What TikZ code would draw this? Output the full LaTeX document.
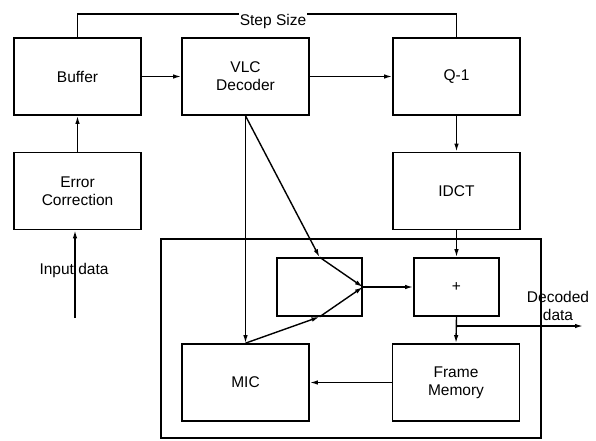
\documentclass[tikz,border=0pt]{standalone}
\usepackage{fontspec}
\setmainfont{Liberation Sans}
\usetikzlibrary{arrows.meta}
\begin{document}
\begin{tikzpicture}[x=1pt,y=-1pt,
  every node/.style={font=\fontsize{15.5}{18}\selectfont},
  blk/.style={draw,line width=1.7pt,minimum width=127pt,minimum height=77pt,inner sep=0pt,align=center},
  sblk/.style={draw,line width=1.7pt,minimum width=85pt,minimum height=58pt,inner sep=0pt,align=center},
  conn/.style={line width=1.4pt,-{Latex[length=8pt,width=4.5pt]}},
  plain/.style={line width=1.4pt},
  lbl/.style={inner sep=1pt,align=center}]
\useasboundingbox (0,0) rectangle (596,440);
\fill[white] (0,0) rectangle (596,440);
% outer box
\node[draw,line width=1.6pt,minimum width=380pt,minimum height=199pt,inner sep=0pt] (outer) at (351,338.5) {};
% blocks
\node[blk] (buf) at (77.5,76.5) {Buffer};
\node[blk] (vlc) at (245.5,76.5) {VLC\\Decoder};
\node[blk] (q) at (456.5,76.5) {Q-1};
\node[blk] (err) at (77.5,191) {Error\\Correction};
\node[blk] (idct) at (456.5,191) {IDCT};
\node[sblk] (sm) at (319.5,287) {};
\node[sblk] (plus) at (456.5,287) {+};
\node[blk] (mic) at (245.5,382.5) {MIC};
\node[blk] (fm) at (456,382.5) {Frame\\Memory};
% helper coordinates
\coordinate (stop) at (0,14);
\coordinate (in) at (75,318);
\coordinate (jrow) at (0,326);
\coordinate (out) at (583,326);
% step size
\draw[plain] (buf.north) -- (buf.north |- stop) -| (q.north);
\node[lbl,fill=white,anchor=base] (step) at (273,25) {Step Size};
% arrows
\draw[conn] (buf.east) -- (vlc.west);
\draw[conn] (vlc.east) -- (q.west);
\draw[conn] (err.north) -- (buf.south);
\draw[conn] (in) -- (in |- err.south);
\node[lbl,anchor=base] (inlbl) at (74,274) {Input data};
\draw[conn] (q.south) -- (idct.north);
\draw[conn] (vlc.south) -- (mic.north);
\draw[conn] (vlc.south) -- (sm.north);
\draw[conn] (sm.north) -- (sm.east);
\draw[conn] (mic.north) -- (sm.south);
\draw[conn] (sm.south) -- (sm.east);
\draw[conn] (sm.east) -- (plus.west);
\draw[conn] (idct.south) -- (plus.north);
\draw[conn] (plus.south) -- (fm.north);
\coordinate (junc) at (plus.south |- jrow);
\draw[conn] (junc) -- (out);
\node[lbl] (dec) at (558,306) {Decoded\\data};
\draw[conn] (fm.west) -- (mic.east);
\end{tikzpicture}
\end{document}
